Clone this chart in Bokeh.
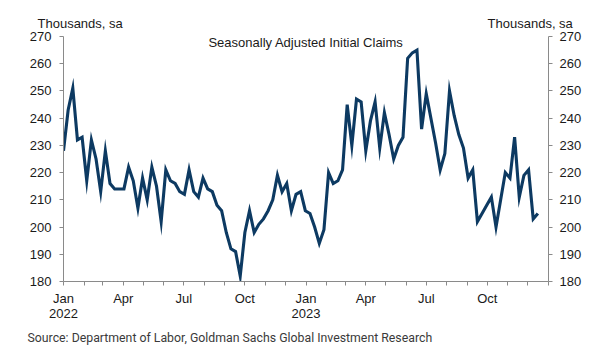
import pandas as pd
from bokeh.plotting import figure
from bokeh.models import (LinearAxis, Range1d, FixedTicker, CustomJSTickFormatter,
                          Label, Title, ColumnDataSource)
from bokeh.embed import file_html
from bokeh.resources import INLINE

# ---- data ----
start_week = "2022-01-01"
claims = [228, 243, 251, 232, 233, 217, 232, 225, 213, 228,
          216, 214, 214, 214, 222, 217, 207, 218, 210, 222,
          215, 202, 221, 217, 216, 213, 212, 221, 213, 211,
          218, 214, 213, 208, 206, 198, 192, 191, 182, 198,
          206, 198, 201, 203, 206, 210, 219, 213, 216, 206,
          212, 213, 206, 205, 200, 194, 199, 220, 216, 217,
          221, 245, 230, 247, 246, 228, 239, 246, 229, 242,
          234, 225, 230, 233, 262, 264, 265, 236, 249, 240,
          231, 221, 227, 250, 241, 234, 229, 218, 221, 202,
          205, 208, 211, 200, 210, 220, 218, 233, 211, 219,
          221, 203, 205]
weeks = pd.date_range(start_week, periods=len(claims), freq="7D")
y_ticks = [180, 190, 200, 210, 220, 230, 240, 250, 260, 270]
month_ticks = pd.date_range("2022-01-01", "2024-01-01", freq="MS")
title_text = "Seasonally Adjusted Initial Claims"
unit_text = "Thousands, sa"
source_text = "Source: Department of Labor, Goldman Sachs Global Investment Research"

x_start = pd.Timestamp("2022-01-01")
x_end = pd.Timestamp("2024-01-01")
x_mid = pd.Timestamp("2023-01-01")

W, H = 596, 358
FONT = "Liberation Sans"
AXIS_COLOR = "#8a8a8a"
TEXT_COLOR = "#1a1a1a"
LINE_COLOR = "#0d3a62"

p = figure(width=W, height=H, x_axis_type="datetime",
           x_range=Range1d(x_start, x_end), y_range=Range1d(180, 270),
           output_backend="svg", toolbar_location=None,
           min_border_left=63, min_border_right=48,
           min_border_top=36, min_border_bottom=77)
p.outline_line_color = None
p.xgrid.visible = False
p.ygrid.visible = False
p.background_fill_color = "white"
p.border_fill_color = "white"

src = ColumnDataSource(dict(x=weeks, y=claims))
p.line("x", "y", source=src, line_color=LINE_COLOR, line_width=3.1, line_join="miter")

# y axes
p.yaxis.ticker = FixedTicker(ticks=y_ticks)
right = LinearAxis(ticker=FixedTicker(ticks=y_ticks))
p.add_layout(right, "right")
for ax, standoff in [(p.yaxis[0], 8), (right, 7)]:
    ax.axis_line_color = AXIS_COLOR
    ax.major_tick_line_color = AXIS_COLOR
    ax.major_tick_out = 4
    ax.major_tick_in = 0
    ax.minor_tick_line_color = None
    ax.major_label_text_font = FONT
    ax.major_label_text_font_size = "13px"
    ax.major_label_text_color = TEXT_COLOR
    ax.major_label_standoff = standoff

# x axis
xa = p.xaxis[0]
xa.ticker = FixedTicker(ticks=[t.value // 10**6 for t in month_ticks], minor_ticks=[])
xa.formatter = CustomJSTickFormatter(code="""
const d = new Date(tick);
const m = d.getUTCMonth();
const y = d.getUTCFullYear();
if (m % 3 !== 0 || y > 2023) return "";
const n = ["Jan", "Apr", "Jul", "Oct"][m / 3];
return m === 0 ? n + "\\n" + y : n;
""")
xa.axis_line_color = AXIS_COLOR
xa.major_tick_line_color = AXIS_COLOR
xa.major_tick_out = 4
xa.major_tick_in = 0
xa.minor_tick_line_color = None
xa.major_label_text_font = FONT
xa.major_label_text_font_size = "13px"
xa.major_label_text_color = TEXT_COLOR
xa.major_label_text_line_height = 1.0
xa.major_label_standoff = 5

# chart title inside the plot area
p.add_layout(Label(x=x_mid, y=267.8, text=title_text, text_align="center",
                   text_baseline="alphabetic", text_font=FONT, text_font_size="13px",
                   text_color=TEXT_COLOR))

# unit labels above both axes (one title line, padded with no-break spaces)
units_line = unit_text + "\u00a0" * 101 + unit_text
p.add_layout(Title(text=units_line, align="left", offset=-26, standoff=11,
                   text_font=FONT, text_font_size="13px", text_font_style="normal",
                   text_color=TEXT_COLOR), "above")

# source line below the chart
p.add_layout(Title(text=source_text, align="left", offset=-36, standoff=10,
                   text_font="Roboto", text_font_size="12.3px", text_font_style="normal",
                   text_color="#3a3a3a"), "below")

open("out.html", "w").write(file_html(p, INLINE))
